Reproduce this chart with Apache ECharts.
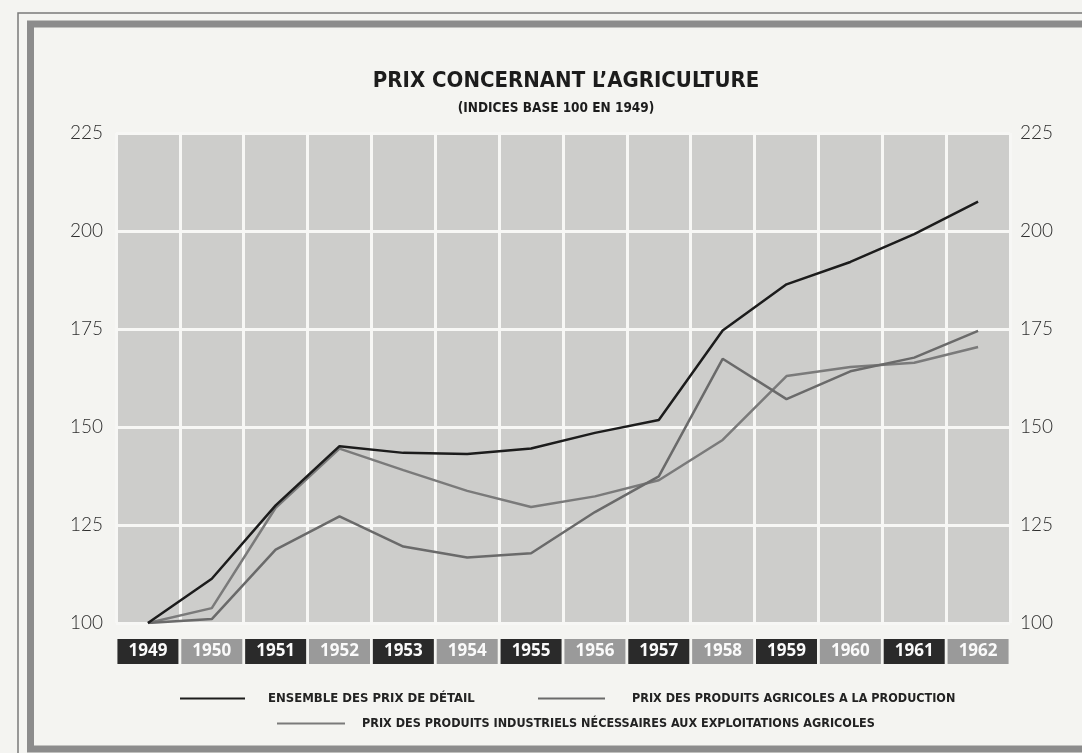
<!DOCTYPE html>
<html>
<head>
<meta charset="utf-8">
<script src="https://cdn.jsdelivr.net/npm/echarts@6/dist/echarts.min.js"></script>
<style>
html,body{margin:0;padding:0;background:#f4f4f1;}
#c{width:1082px;height:753px;}
</style>
</head>
<body>
<div id="c"></div>
<script>
const years = ['1949','1950','1951','1952','1953','1954','1955','1956','1957','1958','1959','1960','1961','1962'];
const prixDetail = [100, 111.3, 130, 145.1, 143.4, 143.1, 144.5, 148.5, 151.8, 174.6, 186.4, 192.1, 199.2, 207.5];
const prixAgricoles = [100, 101, 118.7, 127.2, 119.5, 116.7, 117.8, 128.3, 137.4, 167.4, 157.1, 164.2, 167.7, 174.5];
const prixIndustriels = [100, 103.8, 129.4, 144.5, 139, 133.7, 129.6, 132.3, 136.4, 146.7, 163.0, 165.3, 166.4, 170.4];
const yTicks = [100, 125, 150, 175, 200, 225];
const names = ['ENSEMBLE DES PRIX DE DÉTAIL', 'PRIX DES PRODUITS AGRICOLES A LA PRODUCTION', 'PRIX DES PRODUITS INDUSTRIELS NÉCESSAIRES AUX EXPLOITATIONS AGRICOLES'];

const narrow = "'DejaVu Sans Condensed', 'Liberation Sans Narrow', sans-serif";
const chart = echarts.init(document.getElementById('c'), null, {renderer:'canvas'});
const yLabel = {fontFamily:"Lato, 'Open Sans', sans-serif", fontWeight:300, fontSize:19, color:'#2e2e2e'};
const boxStyle = (bg) => ({backgroundColor:bg, color:'#fafafa', width:61, height:25, lineHeight:25, align:'center', fontFamily:"'Open Sans', Lato, sans-serif", fontWeight:'bold', fontSize:17});
const legendText = {fontFamily:narrow, fontWeight:'bold', fontSize:12.5, color:'#222', padding:[0,0,0,18]};

chart.setOption({
  backgroundColor:'#f4f4f1',
  animation:false,
  title:[
    {text:"PRIX CONCERNANT L’AGRICULTURE", left:561, top:65, textAlign:'center',
     textStyle:{fontFamily:narrow, fontWeight:'bold', fontSize:22, color:'#1c1c1c'}},
    {text:"(INDICES BASE 100 EN 1949)", left:551, top:96, textAlign:'center',
     textStyle:{fontFamily:narrow, fontWeight:'bold', fontSize:13.5, color:'#1c1c1c'}}
  ],
  grid:{left:116, right:72, top:133, bottom:130, show:true, backgroundColor:'#cdcdcb', borderWidth:0},
  legend:[
    {data:[names[0]], left:180, top:692, padding:0, itemWidth:65, itemHeight:2, icon:'rect', itemGap:0, textStyle:Object.assign({}, legendText, {fontSize:13}), selectedMode:false},
    {data:[names[1]], left:538, top:692, padding:0, itemWidth:67, itemHeight:2, icon:'rect', itemGap:0, textStyle:Object.assign({}, legendText, {padding:[0,0,0,22]}), selectedMode:false},
    {data:[names[2]], left:277, top:717, padding:0, itemWidth:68, itemHeight:2, icon:'rect', itemGap:0, textStyle:Object.assign({}, legendText, {padding:[0,0,0,12]}), selectedMode:false}
  ],
  xAxis:{
    type:'category', data:years, boundaryGap:true,
    axisLine:{show:false}, axisTick:{show:false},
    splitLine:{show:true, lineStyle:{color:'#f7f7f5', width:3}},
    axisLabel:{margin:16, interval:0,
      formatter:(v, i) => (i % 2 === 0 ? '{d|' : '{g|') + v + '}',
      rich:{d:boxStyle('#2a2a2a'), g:boxStyle('#9a9a9a')}}
  },
  yAxis:[
    {type:'value', min:100, max:225, interval:25, position:'left',
     axisLine:{show:false}, axisTick:{show:false},
     splitLine:{show:true, lineStyle:{color:'#f7f7f5', width:3}},
     axisLabel:Object.assign({margin:13, customValues:yTicks}, yLabel)},
    {type:'value', min:100, max:225, interval:25, position:'right',
     axisLine:{show:false}, axisTick:{show:false}, splitLine:{show:false},
     axisLabel:Object.assign({margin:10, customValues:yTicks}, yLabel)}
  ],
  series:[
    {name:names[0], type:'line', data:prixDetail, symbol:'none', lineStyle:{color:'#1c1c1c', width:2.5}, itemStyle:{color:'#1c1c1c'}, z:5},
    {name:names[1], type:'line', data:prixAgricoles, symbol:'none', lineStyle:{color:'#6a6a6a', width:2.5}, itemStyle:{color:'#6a6a6a'}, z:4},
    {name:names[2], type:'line', data:prixIndustriels, symbol:'none', lineStyle:{color:'#7a7a7a', width:2.5}, itemStyle:{color:'#7a7a7a'}, z:3}
  ],
  graphic:[
    {type:'rect', shape:{x:18, y:13, width:1100, height:760}, style:{fill:null, stroke:'#7a7a7a', lineWidth:1.5}, silent:true},
    {type:'rect', shape:{x:30.5, y:24, width:1100, height:725}, style:{fill:null, stroke:'#8c8c8c', lineWidth:7}, silent:true}
  ]
});
</script>
</body>
</html>
